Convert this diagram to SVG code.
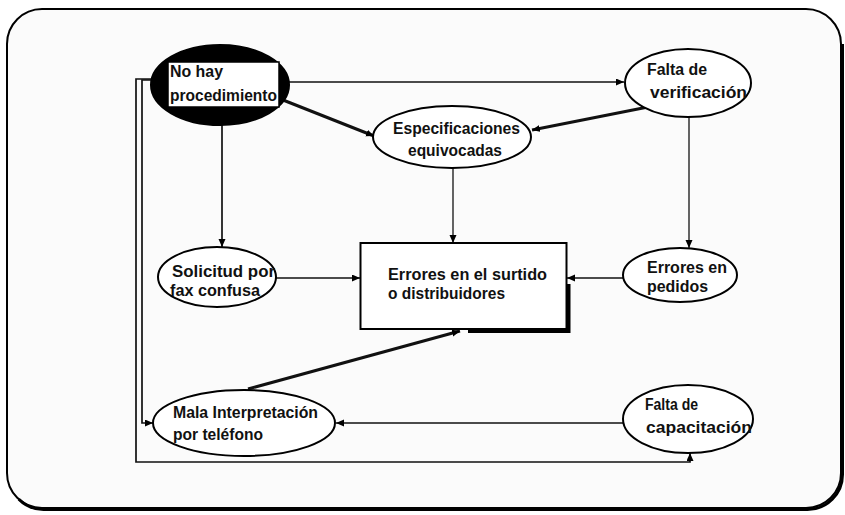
<svg xmlns="http://www.w3.org/2000/svg" width="845" height="515" viewBox="0 0 845 515">
<defs>
<marker id="ah" markerWidth="9" markerHeight="8" refX="8" refY="3.5" orient="auto" markerUnits="userSpaceOnUse">
<path d="M0,0 L8,3.5 L0,7 z" fill="#000"/>
</marker>
<style>
.t{font-family:"Liberation Sans",Arial,sans-serif;font-weight:bold;font-size:16px;fill:#111}
.el{fill:#fff;stroke:#000;stroke-width:2}
.c{fill:none;stroke:#111;stroke-width:1.3}
.ck{fill:none;stroke:#111;stroke-width:3}
.cm{fill:none;stroke:#111;stroke-width:1.7}
</style>
</defs>
<rect width="845" height="515" fill="#fff"/>
<g id="frame">
<rect x="7" y="9" width="834" height="499" rx="35" ry="35" fill="#fbfbfb" stroke="#000" stroke-width="2"/>
<path d="M18.8,499.2 A35,35 0 0 0 43.5,509.5 H807.5 A35,35 0 0 0 842.5,474.5 V44" fill="none" stroke="#000" stroke-width="3"/>
</g>
<g id="connectors">
<path class="cm" d="M289,82 H624" marker-end="url(#ah)"/>
<path class="ck" d="M283,100 L374,136" marker-end="url(#ah)"/>
<path class="ck" d="M648,107 L532,130" marker-end="url(#ah)"/>
<path class="c" d="M689,117 V248" marker-end="url(#ah)"/>
<path class="c" d="M453,168 V243" marker-end="url(#ah)"/>
<path class="cm" d="M222,125 V247" marker-end="url(#ah)"/>
<path class="c" d="M276,278 H360" marker-end="url(#ah)"/>
<path class="c" d="M623,278 H567" marker-end="url(#ah)"/>
<path class="c" d="M623,423 H336" marker-end="url(#ah)"/>
<path class="ck" d="M248,389 L460,331" marker-end="url(#ah)"/>
<path class="cm" d="M152,80 H142 V423 H153" marker-end="url(#ah)"/>
<path class="cm" d="M152,79 H136 V462 H690 V453" marker-end="url(#ah)"/>
</g>
<g id="n-nohay">
<ellipse cx="220" cy="85" rx="69" ry="40" fill="#000" stroke="#000" stroke-width="2"/>
<rect x="168" y="62" width="111" height="45" fill="#fff" stroke="#000" stroke-width="1.5"/>
<text class="t" x="170" y="77" textLength="53" lengthAdjust="spacingAndGlyphs">No hay</text>
<text class="t" x="170" y="101" textLength="107" lengthAdjust="spacingAndGlyphs">procedimiento</text>
</g>
<g id="n-espec">
<ellipse class="el" cx="452" cy="137" rx="79" ry="31"/>
<text class="t" x="393" y="134" textLength="127" lengthAdjust="spacingAndGlyphs">Especificaciones</text>
<text class="t" x="408" y="156" textLength="94" lengthAdjust="spacingAndGlyphs">equivocadas</text>
</g>
<g id="n-fverif">
<ellipse class="el" cx="688" cy="83" rx="63" ry="34"/>
<text class="t" x="647" y="75" textLength="60" lengthAdjust="spacingAndGlyphs">Falta de</text>
<text class="t" x="650" y="98" textLength="97" lengthAdjust="spacingAndGlyphs">verificación</text>
</g>
<g id="n-solicitud">
<ellipse class="el" cx="217" cy="277" rx="59" ry="30"/>
<text class="t" x="172" y="277" textLength="103" lengthAdjust="spacingAndGlyphs">Solicitud por</text>
<text class="t" x="170" y="296" textLength="90" lengthAdjust="spacingAndGlyphs">fax confusa</text>
</g>
<g id="n-errores">
<path d="M468,331 H568.5 V284" fill="none" stroke="#000" stroke-width="4"/>
<rect x="360.5" y="243" width="206" height="86" fill="#fff" stroke="#000" stroke-width="2"/>
<text class="t" x="388" y="280" textLength="159" lengthAdjust="spacingAndGlyphs">Errores en el surtido</text>
<text class="t" x="388" y="299" textLength="117" lengthAdjust="spacingAndGlyphs">o distribuidores</text>
</g>
<g id="n-pedidos">
<ellipse class="el" cx="680" cy="275" rx="57" ry="27"/>
<text class="t" x="647" y="273" textLength="80" lengthAdjust="spacingAndGlyphs">Errores en</text>
<text class="t" x="647" y="292" textLength="61" lengthAdjust="spacingAndGlyphs">pedidos</text>
</g>
<g id="n-mala">
<ellipse class="el" cx="244" cy="423" rx="91" ry="33"/>
<text class="t" x="173" y="418" textLength="145" lengthAdjust="spacingAndGlyphs">Mala Interpretación</text>
<text class="t" x="173" y="440" textLength="90" lengthAdjust="spacingAndGlyphs">por teléfono</text>
</g>
<g id="n-fcap">
<ellipse class="el" cx="688" cy="419" rx="65" ry="34"/>
<text class="t" x="645" y="410" textLength="53" lengthAdjust="spacingAndGlyphs">Falta de</text>
<text class="t" x="646" y="433" textLength="106" lengthAdjust="spacingAndGlyphs">capacitación</text>
</g>
</svg>
